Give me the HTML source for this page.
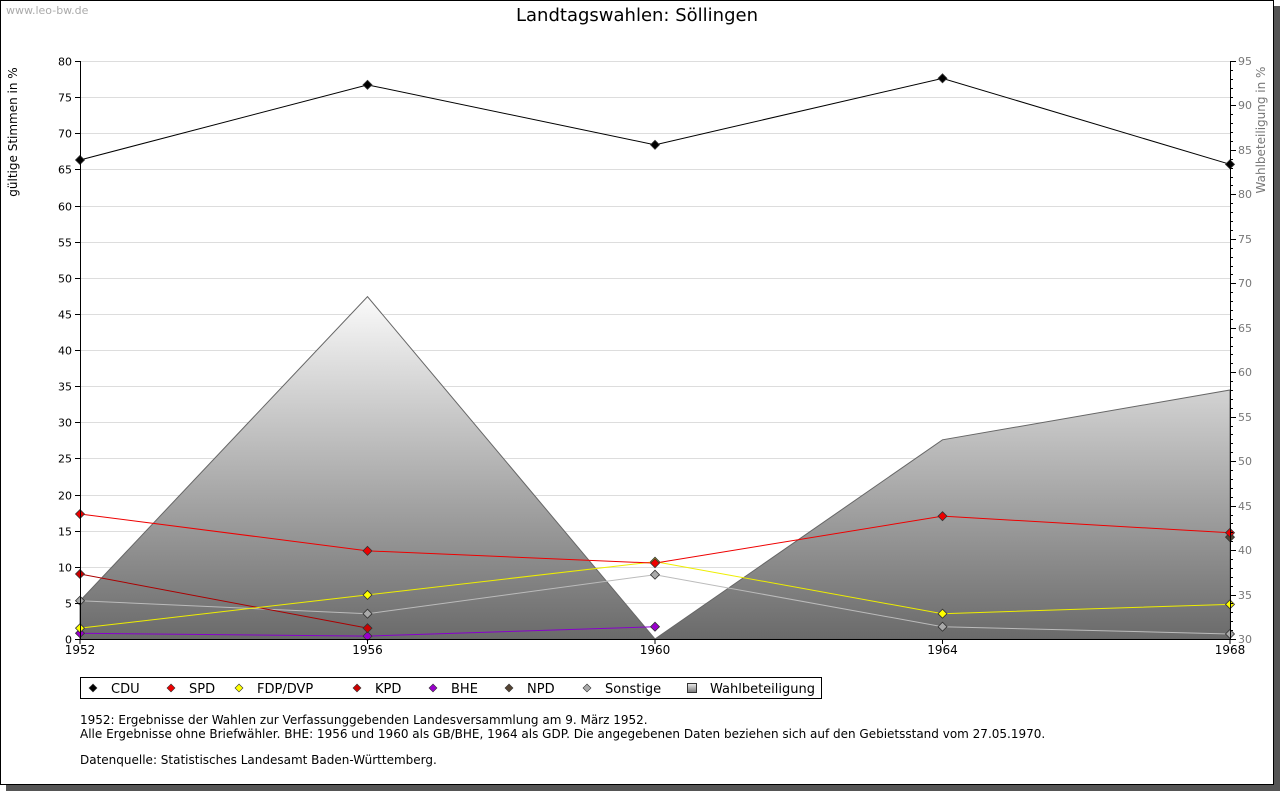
<!DOCTYPE html>
<html><head><meta charset="utf-8"><style>
html,body{margin:0;padding:0;background:#fff;width:1280px;height:791px;overflow:hidden}
svg{display:block;font-family:"DejaVu Sans","Liberation Sans",sans-serif}
</style></head><body>
<svg id="c" width="1280" height="791" xmlns="http://www.w3.org/2000/svg">
<defs><linearGradient id="g" x1="0" y1="297" x2="0" y2="639" gradientUnits="userSpaceOnUse"><stop offset="0" stop-color="#fafafa"/><stop offset="1" stop-color="#6a6a6a"/></linearGradient>
<linearGradient id="lg" x1="0" y1="0" x2="0" y2="1"><stop offset="0" stop-color="#eee"/><stop offset="1" stop-color="#777"/></linearGradient></defs>
<rect x="6" y="6" width="1274" height="785" fill="#555"/>
<rect x="0.5" y="0.5" width="1273" height="784" fill="#fff" stroke="#000"/>
<text x="6" y="14" font-size="11" fill="#aaa">www.leo-bw.de</text>
<text x="637" y="21" font-size="18" text-anchor="middle">Landtagswahlen: Söllingen</text>
<text transform="translate(17,132) rotate(-90)" font-size="12" text-anchor="middle">gültige Stimmen in %</text>
<text transform="translate(1265,130) rotate(-90)" font-size="12" text-anchor="middle" fill="#777">Wahlbeteiligung in %</text>
<g id="grid"></g><g id="area"></g><g id="lines"></g><g id="axes"></g>
<rect x="80.5" y="677.5" width="741" height="21" fill="#fff" stroke="#000"/>
<g id="leg"></g>
<g font-size="12">
<text x="80" y="724">1952: Ergebnisse der Wahlen zur Verfassunggebenden Landesversammlung am 9. März 1952.</text>
<text x="80" y="738">Alle Ergebnisse ohne Briefwähler. BHE: 1956 und 1960 als GB/BHE, 1964 als GDP. Die angegebenen Daten beziehen sich auf den Gebietsstand vom 27.05.1970.</text>
<text x="80" y="764">Datenquelle: Statistisches Landesamt Baden-Württemberg.</text>
</g>
</svg>
<script>
const years=[1952,1956,1960,1964,1968];
const leftTicks=[0,5,10,15,20,25,30,35,40,45,50,55,60,65,70,75,80];
const rightTicks=[30,35,40,45,50,55,60,65,70,75,80,85,90,95];
const turnout=[34.3,68.5,30,52.4,58.0];
const cdu=[66.3,76.7,68.4,77.6,65.7];
const spd=[17.3,12.2,10.5,17.0,14.7];
const fdp=[1.5,6.1,10.7,3.5,4.8];
const kpd=[9.0,1.5,null,null,null];
const bhe=[0.8,0.4,1.7,null,null];
const npd=[null,null,null,null,14.1];
const sonst=[5.3,3.5,8.9,1.7,0.7];
const X0=80,X1=1230,Y0=639,Y1=61;
const xs=i=>X0+(X1-X0)*i/(years.length-1);
const yl=v=>Y0-(Y0-Y1)*v/80;
const yr=v=>Y0-(Y0-Y1)*(v-30)/65;
const NS='http://www.w3.org/2000/svg';
function mk(p,t,a){const e=document.createElementNS(NS,t);for(const k in a)e.setAttribute(k,a[k]);document.getElementById(p).appendChild(e);return e;}
leftTicks.forEach(v=>{
 const y=Math.round(yl(v))+0.5;
 if(v>0){const g=mk('grid','line',{x1:X0,x2:X1,y1:y,y2:y,stroke:'#ddd'});
 
 }
 mk('axes','line',{x1:X0-5,x2:X0,y1:y,y2:y,stroke:'#000'});
 const t=mk('axes','text',{x:X0-8,y:y+4,'font-size':11,'text-anchor':'end'});t.textContent=v;
 
 
});
for(let v=30;v<=95;v++){const y=Math.round(yr(v))+0.5;mk('axes','line',{x1:X1,x2:X1+(v%5?3:6),y1:y,y2:y,stroke:'#000'});}
rightTicks.forEach(v=>{const t=mk('axes','text',{x:X1+8,y:Math.round(yr(v))+4,'font-size':11,fill:'#777'});t.textContent=v;
 
 });
mk('axes','line',{x1:X0+.5,x2:X0+.5,y1:Y1,y2:Y0,stroke:'#000'});
mk('axes','line',{x1:X1+.5,x2:X1+.5,y1:Y1,y2:Y0,stroke:'#000'});
mk('axes','line',{x1:X0,x2:X1,y1:Y0+.5,y2:Y0+.5,stroke:'#000'});
years.forEach((yv,i)=>{const x=xs(i);mk('axes','line',{x1:x,x2:x,y1:Y0,y2:Y0+5,stroke:'#000'});
 const t=mk('axes','text',{x:x,y:Y0+15,'font-size':12,'text-anchor':'middle'});t.textContent=yv;
 
 });
let d='M'+X0+','+Y0;turnout.forEach((v,i)=>d+=' L'+xs(i)+','+yr(v));d+=' L'+X1+','+Y0+'Z';
const ar=mk('area','path',{d:d,fill:'url(#g)',stroke:'#666'});


const series=[['cdu',cdu,'#000','#000'],['spd',spd,'#e00','#e00'],['fdp',fdp,'#ee0','#ff0'],['kpd',kpd,'#a00','#c00'],['bhe',bhe,'#80c','#90c'],['npd',npd,'#543','#543'],['sonstige',sonst,'#bbb','#aaa']];
series.slice().reverse().forEach(([n,arr,c,f])=>{
 let p='';arr.forEach((v,i)=>{if(v!=null)p+=(p?' L':'M')+xs(i)+','+yl(v);});
 const l=mk('lines','path',{d:p,fill:'none',stroke:c});
 
 
 arr.forEach((v,i)=>{if(v==null)return;const x=xs(i),y=yl(v);
  const m=mk('lines','path',{d:`M${x},${y-4.5}L${x+4.5},${y}L${x},${y+4.5}L${x-4.5},${y}Z`,fill:f,stroke:'#333','stroke-width':0.8});
  
  });
});
const legItems=[['CDU','#000',93],['SPD','#e00',171],['FDP/DVP','#ff0',239],['KPD','#c00',357],['BHE','#90c',433],['NPD','#543',509],['Sonstige','#aaa',587],['Wahlbeteiligung',null,692]];
legItems.forEach(([n,c,x])=>{
 if(c){mk('leg','path',{d:`M${x},${684}L${x+4},688L${x},692L${x-4},688Z`,fill:c,stroke:'#333','stroke-width':0.6});}
 else mk('leg','rect',{x:x-4.5,y:683.5,width:9,height:9,fill:'url(#lg)',stroke:'#333'});
 const t=mk('leg','text',{x:x+18,y:693,'font-size':13});t.textContent=n;
 
 
});
</script>
</body></html>
